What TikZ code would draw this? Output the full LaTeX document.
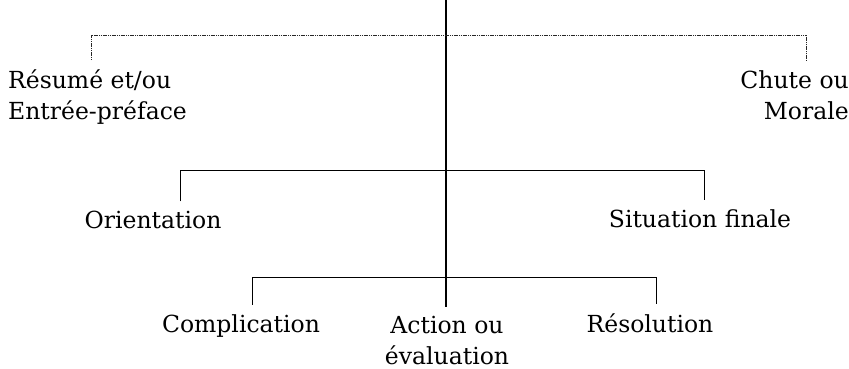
\documentclass[tikz,border=0pt]{standalone}
\usepackage{fontspec}
\setmainfont{DejaVu Serif}
\begin{document}
\begin{tikzpicture}[x=1pt, y=1pt,
    lbl/.style={font=\fontsize{23.5}{31}\selectfont, inner sep=0pt},
    axe/.style={line width=1.1pt},
    crochet/.style={line width=0.9pt},
    pointille/.style={line width=0.9pt, dash pattern=on 1.2pt off 0.6pt, black!85}]
    \useasboundingbox (0,0) rectangle (849,368);
    \def\gap{9}

    % Labels
    \node[lbl, anchor=base west, align=left] (resume) at (8,249) {Résumé et/ou\\Entrée-préface};
    \node[lbl, anchor=base east, align=right] (chute) at (849,249) {Chute ou\\Morale};
    \node[lbl, anchor=base] (orient) at (153,140) {Orientation};
    \node[lbl, anchor=base] (sitfin) at (700,141) {Situation finale};
    \node[lbl, anchor=base] (compl) at (241,36) {Complication};
    \node[lbl, anchor=base, align=center] (action) at (447,4) {Action ou\\évaluation};
    \node[lbl, anchor=base] (resol) at (650,36) {Résolution};

    % Levels
    \coordinate (haut) at (446,368);
    \coordinate (niv1) at (0,333);
    \coordinate (niv2) at (0,198);
    \coordinate (niv3) at (0,91);

    % Axis
    \coordinate (bas) at ([yshift=\gap pt]action.north);
    \draw[axe] (haut) -- (haut |- bas);

    % Brackets
    \coordinate (a1) at ([xshift=-6pt, yshift=\gap pt]resume.north);
    \coordinate (b1) at ([xshift=12pt, yshift=\gap pt]chute.north);
    \draw[pointille] (a1) -- (a1 |- niv1) -| (b1);

    \coordinate (a2) at ([xshift=27pt, yshift=\gap pt]orient.north);
    \coordinate (b2) at ([xshift=4pt, yshift=\gap pt]sitfin.north);
    \draw[crochet] (a2) -- (a2 |- niv2) -| (b2);

    \coordinate (a3) at ([xshift=11pt, yshift=\gap pt]compl.north);
    \coordinate (b3) at ([xshift=6pt, yshift=\gap pt]resol.north);
    \draw[crochet] (a3) -- (a3 |- niv3) -| (b3);
\end{tikzpicture}
\end{document}
